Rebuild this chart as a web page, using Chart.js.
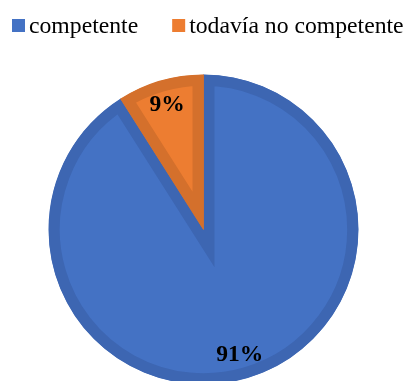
<!DOCTYPE html>
<html>
<head>
<meta charset="utf-8">
<script src="https://cdn.jsdelivr.net/npm/chart.js@4"></script>
<style>
  html, body { margin: 0; padding: 0; overflow: hidden; background: #fff; }
</style>
</head>
<body>
<canvas id="myChart" width="407" height="430"></canvas>
<script>
// Slice names and their shares (percent)
const categories = ['competente', 'todavía no competente'];
const percentages = [91, 9];
const fillColors = ['#4472C4', '#ED7D31'];
const edgeColors = ['#3D66B2', '#D4702C'];

// Legend drawn by hand: small square, tight gap, serif text
const topLegend = {
    id: 'topLegend',
    afterDraw(chart) {
        const ctx = chart.ctx;
        ctx.save();
        ctx.font = '23.7px "Liberation Serif"';
        ctx.textBaseline = 'alphabetic';
        let x = 12;
        categories.forEach((name, i) => {
            ctx.fillStyle = fillColors[i];
            ctx.fillRect(x, 19, 13, 13);
            ctx.fillStyle = '#000';
            ctx.fillText(name, x + 17, 33);
            x += 18 + ctx.measureText(name).width + 33;
        });
        ctx.restore();
    }
};

// Percentage labels placed near the rim of each slice
const sliceLabels = {
    id: 'sliceLabels',
    afterDatasetsDraw(chart) {
        const ctx = chart.ctx;
        const meta = chart.getDatasetMeta(0);
        ctx.save();
        ctx.font = 'bold 23.5px "Liberation Serif"';
        ctx.fillStyle = '#000';
        ctx.textAlign = 'center';
        ctx.textBaseline = 'middle';
        meta.data.forEach((arc, i) => {
            const p = arc.getProps(['x', 'y', 'startAngle', 'endAngle', 'outerRadius'], true);
            const mid = (p.startAngle + p.endAngle) / 2;
            const r = p.outerRadius * 0.84;
            ctx.fillText(percentages[i] + '%', p.x + Math.cos(mid) * r, p.y + Math.sin(mid) * r);
        });
        ctx.restore();
    }
};

const ctx = document.getElementById('myChart').getContext('2d');

new Chart(ctx, {
    type: 'pie',
    data: {
        labels: categories,
        datasets: [{
            data: percentages,
            backgroundColor: fillColors,
            borderColor: edgeColors,
            borderWidth: 11,
            borderAlign: 'inner',
            borderJoinStyle: 'miter'
        }]
    },
    options: {
        responsive: false,
        animation: false,
        radius: 155,
        layout: { padding: { top: 29 } },
        plugins: {
            legend: { display: false },
            tooltip: { enabled: false }
        }
    },
    plugins: [topLegend, sliceLabels]
});
</script>
</body>
</html>
